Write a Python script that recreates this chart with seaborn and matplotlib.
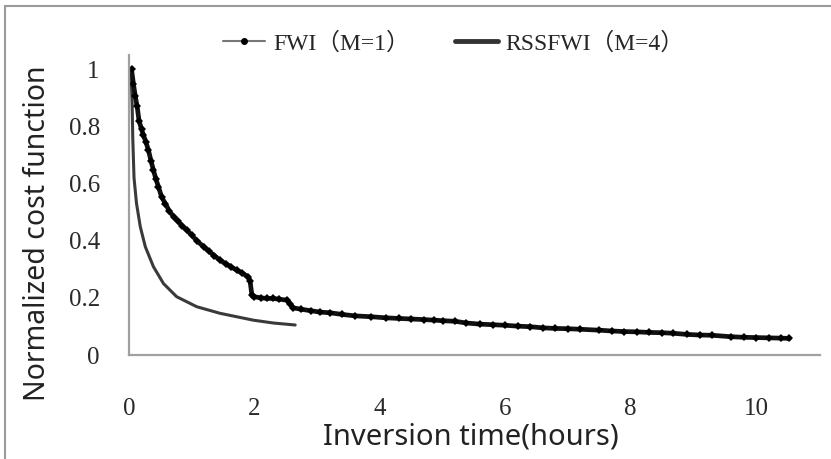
import matplotlib
matplotlib.use("Agg")
import matplotlib.pyplot as plt
import seaborn as sns
import pandas as pd
from matplotlib.lines import Line2D
from matplotlib.font_manager import FontProperties

# ---- data ----
fwi_x = [0.04, 0.07, 0.10, 0.13, 0.16, 0.20, 0.23, 0.27, 0.31, 0.35, 0.39, 0.43, 0.47,
         0.52, 0.58, 0.64, 0.71, 0.78, 0.85, 0.92, 1.00, 1.08, 1.19, 1.27, 1.36, 1.45,
         1.54, 1.63, 1.72, 1.81, 1.90, 1.93, 1.96, 2.00, 2.10, 2.20, 2.30, 2.40, 2.52,
         2.57, 2.62, 2.75, 2.90, 3.05, 3.20, 3.40, 3.60, 3.86, 4.10, 4.30, 4.50, 4.70,
         4.87, 5.00, 5.20, 5.38, 5.60, 5.80, 6.00, 6.20, 6.40, 6.60, 6.80, 7.00, 7.20,
         7.49, 7.70, 7.90, 8.10, 8.30, 8.50, 8.68, 8.90, 9.10, 9.30, 9.60, 9.80, 10.00,
         10.20, 10.40, 10.53]
fwi_y = [1.00, 0.95, 0.905, 0.87, 0.82, 0.79, 0.77, 0.745, 0.717, 0.68, 0.647, 0.615, 0.589,
         0.553, 0.53, 0.505, 0.484, 0.468, 0.452, 0.437, 0.42, 0.40, 0.379, 0.364, 0.348, 0.332,
         0.320, 0.308, 0.297, 0.286, 0.274, 0.26, 0.21, 0.204, 0.20, 0.198, 0.198, 0.195, 0.192,
         0.18, 0.165, 0.16, 0.155, 0.150, 0.148, 0.142, 0.137, 0.134, 0.130, 0.128, 0.126, 0.124,
         0.122, 0.120, 0.118, 0.112, 0.108, 0.106, 0.104, 0.101, 0.099, 0.095, 0.093, 0.092, 0.090,
         0.087, 0.084, 0.082, 0.081, 0.079, 0.078, 0.076, 0.072, 0.070, 0.069, 0.064, 0.062, 0.061,
         0.060, 0.059, 0.058]

rss_x = [0.03, 0.05, 0.06, 0.08, 0.12, 0.18, 0.26, 0.39, 0.55, 0.76, 1.08, 1.45, 1.98, 2.30, 2.65]
rss_y = [1.00, 0.88, 0.76, 0.62, 0.53, 0.449, 0.379, 0.309, 0.25, 0.204, 0.169, 0.146, 0.122, 0.112, 0.105]

series_labels = ["FWI（M=1）", "RSSFWI（M=4）"]
x_ticks = [0, 2, 4, 6, 8, 10]
y_ticks = [0, 0.2, 0.4, 0.6, 0.8, 1.0]
y_tick_labels = ["0", "0.2", "0.4", "0.6", "0.8", "1"]
x_label = "Inversion time(hours)"
y_label = "Normalized cost function"

# ---- plot ----
sns.set_theme(style="white")
plt.rcParams["font.family"] = ["Liberation Serif", "Noto Sans CJK SC"]
plt.rcParams["xtick.labelsize"] = 18
plt.rcParams["ytick.labelsize"] = 18
serif = ["Liberation Serif", "Noto Sans CJK SC"]
sansf = ["Noto Sans", "DejaVu Sans"]
tick_fp = FontProperties(family="Liberation Serif", size=18)

fig = plt.figure(figsize=(8.31, 4.59), dpi=100)
ax = fig.add_axes([129 / 831, 1 - 355 / 459, 691 / 831, 300 / 459])

df_fwi = pd.DataFrame({"x": fwi_x, "y": fwi_y})
df_rss = pd.DataFrame({"x": rss_x, "y": rss_y})

sns.lineplot(data=df_rss, x="x", y="y", ax=ax, sort=False, estimator=None,
             color="#3a3a3a", linewidth=2.2)
sns.lineplot(data=df_fwi, x="x", y="y", ax=ax, sort=False, estimator=None,
             color="#111111", linewidth=3.4, marker="D", markersize=4.5,
             markeredgewidth=0, markerfacecolor="#000000")

ax.set_xlim(0, 11.02)
ax.set_ylim(0, 1.05)
ax.set_xticks(x_ticks, [str(t) for t in x_ticks])
ax.set_yticks(y_ticks, y_tick_labels)
ax.tick_params(axis="both", labelcolor="#2a2a2a", length=0)
ax.tick_params(axis="x", pad=31)
ax.tick_params(axis="y", pad=21)

for s in ["top", "right"]:
    ax.spines[s].set_visible(False)
for s in ["left", "bottom"]:
    ax.spines[s].set_color("#a0a0a0")
    ax.spines[s].set_linewidth(1.6)

ax.set_xlabel(x_label, fontfamily=sansf, fontsize=21, color="#222222")
ax.set_ylabel(y_label, fontfamily=sansf, fontsize=20.5, color="#222222")
ax.xaxis.set_label_coords(0.495, -0.273)
ax.xaxis.label.set_va("center")
ax.yaxis.set_label_coords(-0.132, 0.407)
ax.yaxis.label.set_va("center")

handles = [
    Line2D([], [], color="#777777", linewidth=1.5, marker="o", markersize=4,
           markerfacecolor="black", markeredgecolor="black"),
    Line2D([], [], color="#333333", linewidth=3.5),
]
fig.legend(handles, series_labels, loc="center", bbox_to_anchor=(0.546, 0.906),
           ncol=2, frameon=False, handlelength=1.8, handletextpad=0.35,
           columnspacing=1.9, prop={"family": serif, "size": 17})

# thin frame around the picture (left and top edges visible in the reference)
fig.add_artist(Line2D([5 / 831, 5 / 831], [0, 1 - 6 / 459], transform=fig.transFigure,
                      color="#9a9a9a", linewidth=1.5))
fig.add_artist(Line2D([5 / 831, 1], [1 - 6 / 459, 1 - 6 / 459], transform=fig.transFigure,
                      color="#9a9a9a", linewidth=1.5))

fig.canvas.draw()
for lab in ax.get_xticklabels() + ax.get_yticklabels():
    lab.set_fontproperties(tick_fp)

fig.savefig("out.png", dpi=100, facecolor="white")
